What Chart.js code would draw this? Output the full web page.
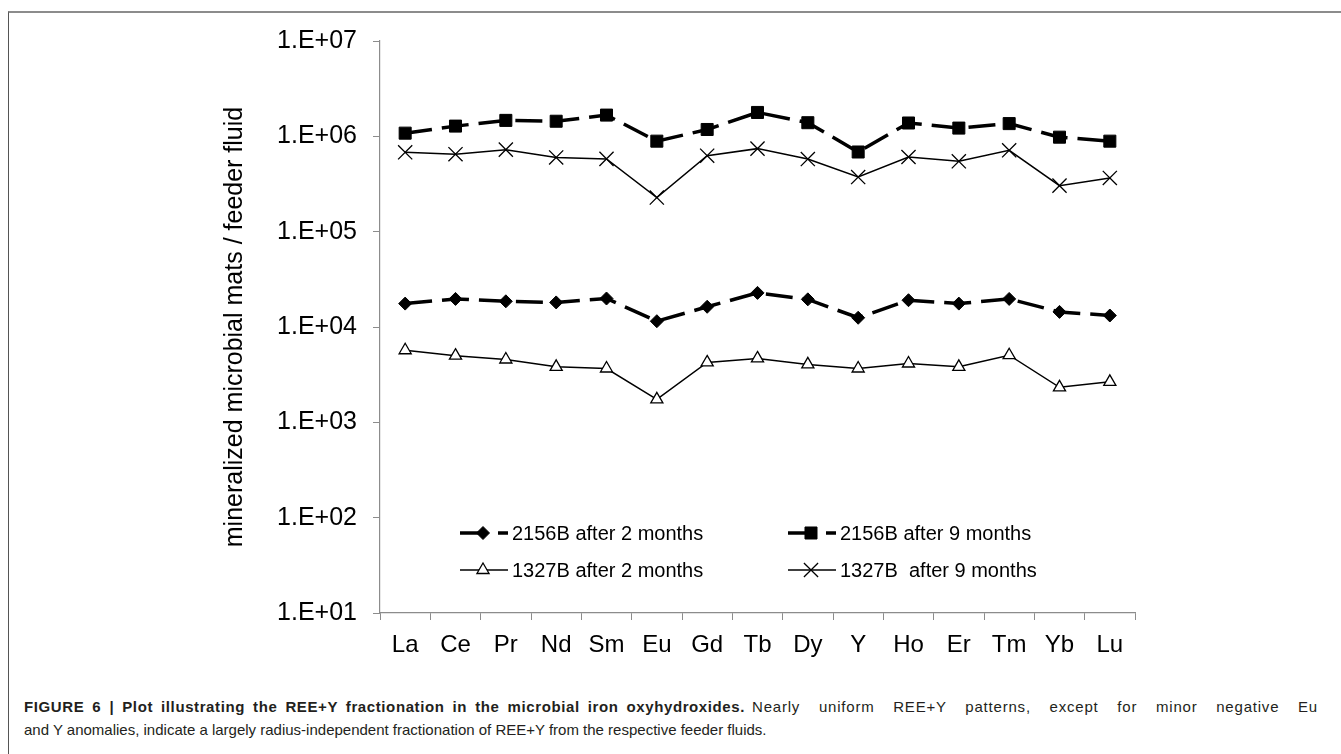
<!DOCTYPE html>
<html>
<head>
<meta charset="utf-8">
<script src="https://cdn.jsdelivr.net/npm/chart.js@4.4.1/dist/chart.umd.min.js"></script>
<style>
html, body { margin: 0; padding: 0; background: #fff; overflow: hidden; }
#frame { position: absolute; left: 8px; top: 11px; width: 1400px; height: 800px;
  border-top: 2px solid #8c8c8c; border-left: 1.5px solid #555; }
#chart { position: absolute; left: 0; top: 0; }
#caption { position: absolute; left: 24px; top: 695px; font-family: 'Liberation Sans', Arial, sans-serif;
  font-size: 15px; line-height: 23px; color: #231f20; white-space: nowrap; }
#caption .j { display: inline-block; text-align: justify; text-align-last: justify; vertical-align: top; }
#caption .b { width: 721px; font-weight: bold; letter-spacing: 0.6px; }
#caption .r { width: 566px; margin-left: 7px; letter-spacing: 0.8px; }
</style>
</head>
<body>
<div id="frame"></div>
<canvas id="chart" width="1341" height="680"></canvas>
<div id="caption">
  <div><span class="j b">FIGURE 6 | Plot illustrating the REE+Y fractionation in the microbial iron oxyhydroxides.</span><span class="j r">Nearly uniform REE+Y patterns, except for minor negative Eu</span></div>
  <div>and Y anomalies, indicate a largely radius-independent fractionation of REE+Y from the respective feeder fluids.</div>
</div>
<script>
const elements = ['La', 'Ce', 'Pr', 'Nd', 'Sm', 'Eu', 'Gd', 'Tb', 'Dy', 'Y', 'Ho', 'Er', 'Tm', 'Yb', 'Lu'];
const b2156_2mo = [1.76e4, 1.97e4, 1.86e4, 1.81e4, 1.99e4, 1.15e4, 1.63e4, 2.28e4, 1.95e4, 1.25e4, 1.91e4, 1.76e4, 1.97e4, 1.44e4, 1.32e4];
const b2156_9mo = [1.08e6, 1.28e6, 1.47e6, 1.44e6, 1.67e6, 8.9e5, 1.18e6, 1.78e6, 1.39e6, 6.85e5, 1.38e6, 1.22e6, 1.36e6, 9.8e5, 8.9e5];
const b1327_2mo = [5.7e3, 5.0e3, 4.56e3, 3.82e3, 3.67e3, 1.74e3, 4.25e3, 4.68e3, 4.05e3, 3.67e3, 4.14e3, 3.82e3, 5.06e3, 2.33e3, 2.66e3];
const b1327_9mo = [6.8e5, 6.5e5, 7.25e5, 6.0e5, 5.8e5, 2.28e5, 6.27e5, 7.43e5, 5.78e5, 3.74e5, 6.07e5, 5.47e5, 7.13e5, 3.04e5, 3.66e5];
const yTickValues = [1e1, 1e2, 1e3, 1e4, 1e5, 1e6, 1e7];
const yTickLabels = ['1.E+01', '1.E+02', '1.E+03', '1.E+04', '1.E+05', '1.E+06', '1.E+07'];

const FONT = "'Liberation Sans', Arial, sans-serif";

// dashed thick series + thin solid series
const thick = { borderColor: '#000', backgroundColor: '#000', borderWidth: 3.5, borderDash: [27, 10],
  pointBorderColor: '#000', pointBackgroundColor: '#000', pointBorderWidth: 1 };
const thin = { borderColor: '#000', borderWidth: 1.5, pointBorderColor: '#000',
  pointBackgroundColor: '#fff', pointBorderWidth: 1.3 };

const data = {
  labels: elements,
  datasets: [
    { ...thick, label: '2156B after 2 months', data: b2156_2mo, pointStyle: 'rectRot', pointRadius: 6.5 },
    { ...thick, label: '2156B after 9 months', data: b2156_9mo, pointStyle: 'rect', pointRadius: 8.5 },
    { ...thin, label: '1327B after 2 months', data: b1327_2mo, pointStyle: 'triangle', pointRadius: 7 },
    { ...thin, label: '1327B  after 9 months', data: b1327_9mo, pointStyle: 'crossRot', pointRadius: 10 }
  ]
};

// legend drawn inside the plot, two columns, two rows
const legendInside = {
  id: 'legendInside',
  afterDraw(chart) {
    const ctx = chart.ctx;
    const a = chart.chartArea;
    const cols = [a.left + 80, a.left + 408];
    const rows = [a.bottom - 80, a.bottom - 43];
    chart.data.datasets.forEach((ds, i) => {
      const x = cols[i % 2], y = rows[Math.floor(i / 2)];
      ctx.save();
      ctx.strokeStyle = '#000';
      ctx.lineWidth = ds.borderWidth;
      ctx.setLineDash(ds.borderDash ? [20, 18] : []);
      ctx.beginPath();
      ctx.moveTo(x, y);
      ctx.lineTo(x + 48, y);
      ctx.stroke();
      ctx.setLineDash([]);
      ctx.fillStyle = ds.pointBackgroundColor;
      ctx.strokeStyle = ds.pointBorderColor;
      ctx.lineWidth = ds.pointBorderWidth;
      Chart.helpers.drawPoint(ctx, { pointStyle: ds.pointStyle, radius: ds.pointRadius, rotation: 0,
        borderWidth: ds.pointBorderWidth }, x + 23, y);
      ctx.fillStyle = '#000';
      ctx.font = '20px ' + FONT;
      ctx.textBaseline = 'middle';
      ctx.textAlign = 'left';
      ctx.fillText(ds.label, x + 52, y + 1);
      ctx.restore();
    });
  }
};

const config = {
  type: 'line',
  data: data,
  options: {
    responsive: false,
    animation: false,
    layout: { padding: { left: 0, top: 41, right: 206, bottom: 17 } },
    plugins: {
      legend: { display: false },
      tooltip: { enabled: false }
    },
    scales: {
      x: {
        offset: true,
        grid: { offset: true, drawOnChartArea: false, tickLength: 7, color: '#8c8c8c' },
        border: { color: '#8c8c8c', width: 1.2 },
        ticks: { color: '#000', font: { family: FONT, size: 24 }, padding: 11, maxRotation: 0, autoSkip: false },
        afterFit: (s) => { s.height = 50; }
      },
      y: {
        type: 'logarithmic',
        min: 10,
        max: 1e7,
        grid: { drawOnChartArea: false, tickLength: 7, color: '#8c8c8c' },
        border: { color: '#8c8c8c', width: 1.2 },
        afterBuildTicks: (s) => { s.ticks = yTickValues.map(v => ({ value: v })); },
        ticks: {
          color: '#000', font: { family: FONT, size: 25 }, padding: 16,
          callback: (v) => yTickLabels[yTickValues.indexOf(v)]
        },
        title: {
          display: true,
          text: 'mineralized microbial mats / feeder fluid',
          color: '#000',
          font: { family: FONT, size: 25 },
          padding: { top: 220, bottom: 0 }
        },
        afterFit: (s) => { s.width = 380; }
      }
    }
  },
  plugins: [legendInside]
};

const chart = new Chart(document.getElementById('chart'), config);
</script>
</body>
</html>
